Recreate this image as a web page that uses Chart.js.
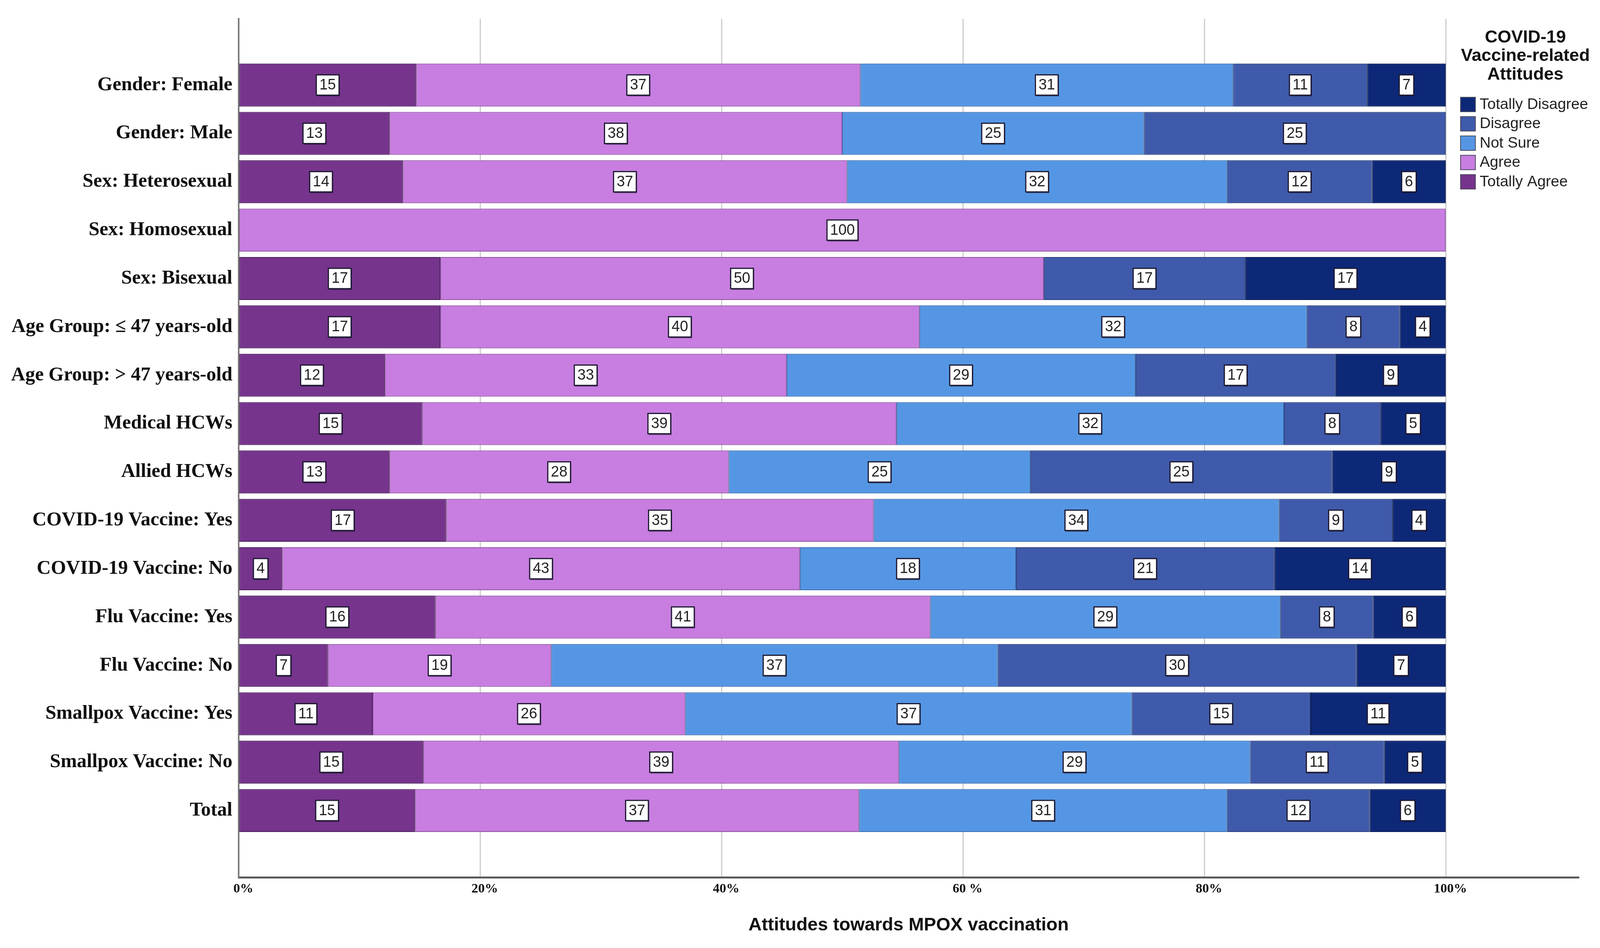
<!DOCTYPE html>
<html>
<head>
<meta charset="utf-8">
<script src="https://cdn.jsdelivr.net/npm/chart.js@4.4.1/dist/chart.umd.min.js"></script>
<style>
  html, body { margin: 0; padding: 0; background: #ffffff; }
  #wrap { width: 4127px; height: 2427px; }
</style>
</head>
<body>
<div id="wrap"><canvas id="c" width="4127" height="2427"></canvas></div>
<script>
// ---------- data ----------
const categories = [
  'Gender: Female', 'Gender: Male', 'Sex: Heterosexual', 'Sex: Homosexual', 'Sex: Bisexual',
  'Age Group: \u2264 47 years-old', 'Age Group: > 47 years-old', 'Medical HCWs', 'Allied HCWs',
  'COVID-19 Vaccine: Yes', 'COVID-19 Vaccine: No', 'Flu Vaccine: Yes', 'Flu Vaccine: No',
  'Smallpox Vaccine: Yes', 'Smallpox Vaccine: No', 'Total'
];
const totallyAgree    = [14.7, 12.5, 13.6,   0, 16.7, 16.7, 12.1, 15.2, 12.5, 17.2,  3.6, 16.3,  7.4, 11.1, 15.3, 14.6];
const agree           = [36.8, 37.5, 36.8, 100, 50.0, 39.7, 33.3, 39.3, 28.1, 35.4, 42.9, 41.0, 18.5, 25.9, 39.4, 36.8];
const notSure         = [30.9, 25.0, 31.5,   0,    0, 32.1, 28.9, 32.1, 25.0, 33.6, 17.9, 29.0, 37.0, 37.0, 29.1, 30.5];
const disagree        = [11.1, 25.0, 12.0,   0, 16.7,  7.7, 16.6,  8.0, 25.0,  9.4, 21.4,  7.7, 29.7, 14.8, 11.1, 11.8];
const totallyDisagree = [ 6.5,    0,  6.1,   0, 16.6,  3.8,  9.1,  5.4,  9.4,  4.4, 14.2,  6.0,  7.4, 11.2,  5.1,  6.3];

const seriesNames = ['Totally Agree', 'Agree', 'Not Sure', 'Disagree', 'Totally Disagree'];
const xTickValues = [0, 20, 40, 60, 80, 100];
const xTickLabels = ['0%', '20%', '40%', '60 %', '80%', '100%'];
const legendTitle = ['COVID-19', 'Vaccine-related', 'Attitudes'];
const xAxisTitle = 'Attitudes towards MPOX vaccination';

// ---------- styles ----------
const colors = ['#76348c', '#c87de0', '#5596e4', '#3f5aaa', '#0e2878'];
const borders = ['#4a1f5c', '#8e55a3', '#3a6fb0', '#2b3f7c', '#081a52'];

const seriesValues = [totallyAgree, agree, notSure, disagree, totallyDisagree];
const datasets = seriesValues.map((vals, k) => ({
  label: seriesNames[k],
  data: vals.map((v, i) => ({ x: v === 0 ? null : v, y: i })),
  backgroundColor: colors[k],
  borderColor: borders[k],
  borderWidth: 2,
  borderSkipped: false,
  barPercentage: 0.888,
  categoryPercentage: 1.0
}));

const valueLabels = {
  id: 'valueLabels',
  afterDatasetsDraw(chart) {
    const ctx = chart.ctx;
    ctx.save();
    ctx.font = '38px "Liberation Sans Narrow", "Liberation Sans", Arial, sans-serif';
    ctx.textAlign = 'center';
    ctx.textBaseline = 'middle';
    chart.data.datasets.forEach((ds, di) => {
      const meta = chart.getDatasetMeta(di);
      meta.data.forEach((el, i) => {
        const raw = seriesValues[di][i];
        if (!raw) return;
        const txt = String(Math.round(raw));
        const cx = (el.x + el.base) / 2;
        const cy = el.y;
        const tw = ctx.measureText(txt).width;
        const w = tw + 16, h = 52;
        ctx.fillStyle = 'rgba(20,20,40,0.55)';
        ctx.fillRect(cx - w / 2 + 2, cy - h / 2 + 3, w, h);
        ctx.fillStyle = '#ffffff';
        ctx.fillRect(cx - w / 2, cy - h / 2, w, h);
        ctx.lineWidth = 3;
        ctx.strokeStyle = '#1c1830';
        ctx.strokeRect(cx - w / 2, cy - h / 2, w, h);
        ctx.fillStyle = '#222222';
        ctx.fillText(txt, cx, cy + 1);
      });
    });
    ctx.restore();
  }
};

const customLegend = {
  id: 'customLegend',
  afterDraw(chart) {
    const ctx = chart.ctx;
    ctx.save();
    ctx.fillStyle = '#111111';
    ctx.textAlign = 'center';
    ctx.textBaseline = 'middle';
    ctx.font = 'bold 45px "Liberation Sans", Arial, sans-serif';
    const tys = [97, 144, 192];
    legendTitle.forEach((t, i) => ctx.fillText(t, 3905, tys[i]));
    ctx.font = '39px "Liberation Sans", Arial, sans-serif';
    ctx.textAlign = 'left';
    const order = [4, 3, 2, 1, 0];
    order.forEach((k, j) => {
      const y = 267 + j * 49.5;
      ctx.fillStyle = colors[k];
      ctx.fillRect(3739, y - 18, 38, 37);
      ctx.lineWidth = 2;
      ctx.strokeStyle = '#4a4a5a';
      ctx.strokeRect(3739, y - 18, 38, 37);
      ctx.fillStyle = '#222222';
      ctx.fillText(seriesNames[k], 3788, y + 1);
    });
    ctx.restore();
  }
};

new Chart(document.getElementById('c'), {
  type: 'bar',
  data: { datasets },
  plugins: [valueLabels, customLegend],
  options: {
    indexAxis: 'y',
    responsive: false,
    animation: false,
    devicePixelRatio: 1,
    layout: { padding: { top: 48, right: 86, bottom: 0, left: 0 } },
    plugins: { legend: { display: false }, tooltip: { enabled: false } },
    scales: {
      x: {
        type: 'linear',
        stacked: true,
        min: 0,
        max: 111,
        offset: false,
        afterBuildTicks(scale) { scale.ticks = xTickValues.map(v => ({ value: v })); },
        afterFit(scale) { scale.height = 181; },
        ticks: {
          padding: 10,
          labelOffset: 12,
          color: '#111111',
          font: { family: '"Liberation Serif", "DejaVu Serif", serif', size: 34, weight: 'bold' },
          callback(v) { const i = xTickValues.indexOf(v); return i >= 0 ? xTickLabels[i] : ''; }
        },
        grid: { color: '#cccccc', lineWidth: 3, drawTicks: false },
        border: { display: true, color: '#5a5a5a', width: 5 },
        title: {
          display: true,
          text: xAxisTitle,
          color: '#111111',
          font: { family: '"Liberation Sans", Arial, sans-serif', size: 47, weight: 'bold' },
          padding: { top: 0, bottom: 30 }
        }
      },
      y: {
        type: 'linear',
        stacked: true,
        reverse: true,
        offset: false,
        min: -1.37,
        max: 16.38,
        afterBuildTicks(scale) { scale.ticks = categories.map((c, i) => ({ value: i })); },
        afterFit(scale) { scale.width = 611; },
        ticks: {
          padding: 16,
          autoSkip: false,
          color: '#111111',
          font: { family: '"Liberation Serif", "DejaVu Serif", serif', size: 50, weight: 'bold' },
          callback(v) { return categories[v] !== undefined ? categories[v] : ''; }
        },
        grid: { display: false, drawTicks: false, offset: false },
        border: { display: true, color: '#7a7a7a', width: 4 }
      }
    }
  }
});
</script>
</body>
</html>
